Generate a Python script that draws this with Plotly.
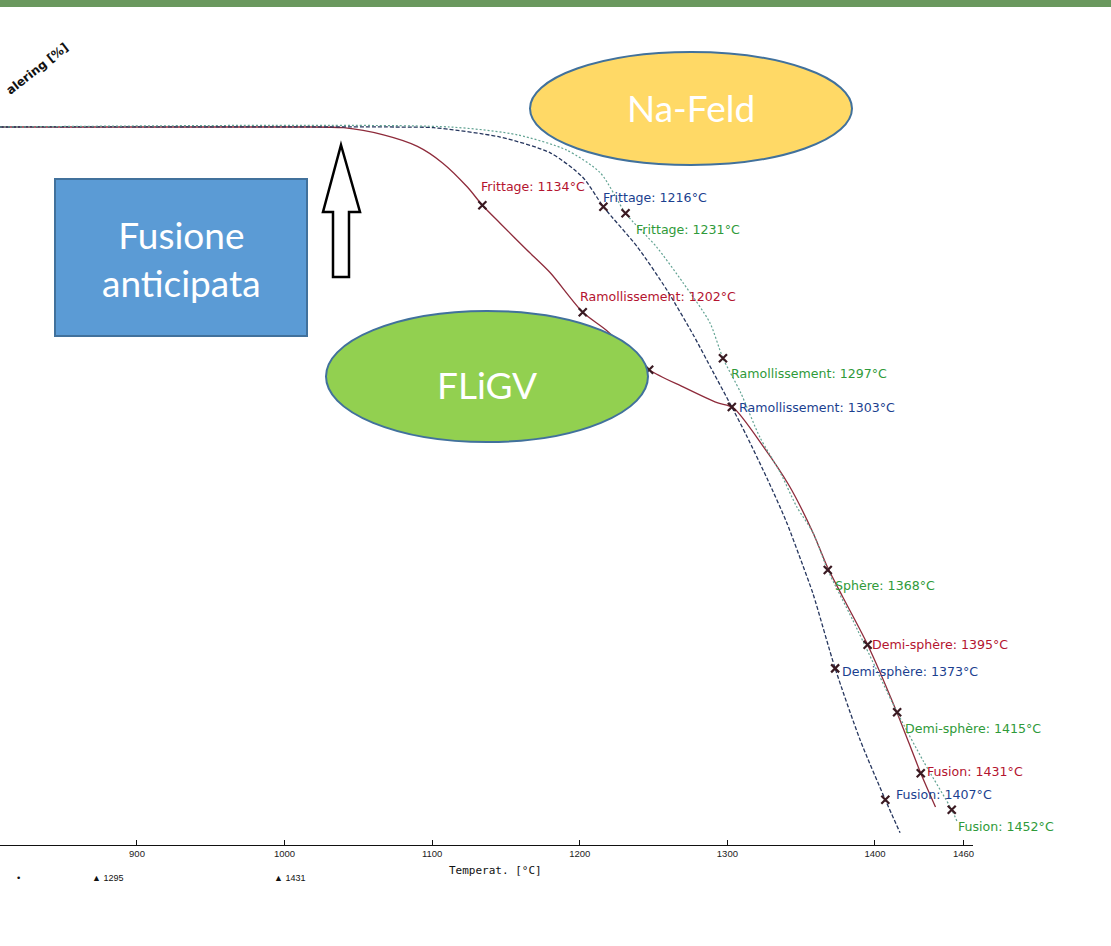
import plotly.graph_objects as go

# ---------------- data ----------------
red_T = [807, 1000, 1040, 1067, 1090, 1107, 1124, 1134, 1146, 1164, 1180, 1202, 1218, 1247,
         1270, 1293, 1304, 1324, 1342, 1358, 1368, 1378, 1395, 1415, 1431, 1441]
red_v = [100, 100, 99.9, 98.9, 97.3, 95.0, 91.6, 89.1, 86.6, 82.9, 79.7, 74.2, 71.7, 66.2,
         63.8, 61.6, 60.9, 55.6, 50.0, 43.5, 38.6, 34.6, 27.9, 18.4, 10.0, 5.3]

blue_T = [807, 1075, 1101, 1146, 1180, 1202, 1216, 1239, 1259, 1277, 1290, 1303, 1313, 1327,
          1340, 1351, 1358, 1373, 1390, 1407, 1417]
blue_v = [100, 100, 99.9, 98.6, 96.4, 93.0, 88.9, 83.3, 77.3, 71.0, 66.0, 61.0, 57.0, 51.0,
          45.0, 39.0, 35.0, 24.6, 14.6, 6.3, 1.7]

green_T = [807, 1112, 1158, 1191, 1214, 1231, 1252, 1270, 1288, 1297, 1309, 1322, 1336, 1347,
           1358, 1368, 1385, 1415, 1433, 1452, 1456]
green_v = [100, 100, 98.9, 96.8, 93.6, 88.0, 83.3, 78.3, 72.8, 67.8, 63.0, 56.8, 51.8, 47.1,
           43.5, 38.3, 31.3, 18.5, 11.6, 4.9, 3.1]

# characteristic points (marker temperature, value, label)
red_pts_T = [1134, 1202, 1247, 1395, 1431]
red_pts_v = [89.1, 74.2, 66.2, 27.9, 10.0]
red_pts_lbl = ["Frittage: 1134°C", "Ramollissement: 1202°C", "", "Demi-sphère: 1395°C", "Fusion: 1431°C"]

blue_pts_T = [1216, 1303, 1373, 1407]
blue_pts_v = [88.9, 61.0, 24.6, 6.3]
blue_pts_lbl = ["Frittage: 1216°C", "Ramollissement: 1303°C", "Demi-sphère: 1373°C", "Fusion: 1407°C"]

green_pts_T = [1231, 1297, 1368, 1415, 1452]
green_pts_v = [88.0, 67.8, 38.3, 18.5, 4.9]
green_pts_lbl = ["Frittage: 1231°C", "Ramollissement: 1297°C", "Sphère: 1368°C", "Demi-sphère: 1415°C", "Fusion: 1452°C"]

tick_vals = [900, 1000, 1100, 1200, 1300, 1400, 1460]
tick_text = ["900", "1000", "1100", "1200", "1300", "1400", "1460"]

# ---------------- layout helpers ----------------
W, H = 1111, 946
PL, PR, PT, PB = 0, 973, 0, 845   # plot area in pixels


def X(px):
    return (px - PL) / (PR - PL)


def Y(py):
    return (PB - py) / (PB - PT)


RED, BLUE, GREEN = "#8e2b3b", "#26365e", "#62a393"
RED_T, BLUE_T, GREEN_T = "#b4142f", "#1b3f8f", "#2f9a3a"
MK = "#3a1a22"

fig = go.Figure()
fig.add_trace(go.Scatter(x=red_T, y=red_v, mode="lines",
                         line=dict(color=RED, width=1.3, shape="spline", smoothing=0.7),
                         showlegend=False, hoverinfo="skip"))
fig.add_trace(go.Scatter(x=blue_T, y=blue_v, mode="lines",
                         line=dict(color=BLUE, width=1.3, dash="4px,2px", shape="spline", smoothing=0.7),
                         showlegend=False, hoverinfo="skip"))
fig.add_trace(go.Scatter(x=green_T, y=green_v, mode="lines",
                         line=dict(color=GREEN, width=1.2, dash="2px,2px", shape="spline", smoothing=0.7),
                         showlegend=False, hoverinfo="skip"))

for tx, vy in [(red_pts_T, red_pts_v), (blue_pts_T, blue_pts_v), (green_pts_T, green_pts_v)]:
    fig.add_trace(go.Scatter(x=tx, y=vy, mode="markers",
                             marker=dict(symbol="x-thin", size=8, line=dict(color=MK, width=2.2)),
                             showlegend=False, hoverinfo="skip"))

annotations = []
shifts_red = [(-3, 19), (-5, 16), None, (2, 0), (4, 2)]
shifts_blue = [(-2, 9), (5, 0), (5, -3), (9, 5)]
shifts_green = [(8, -16), (6, -15), (5, -15), (6, -16), (4, -17)]
for tx, vy, lbls, sh, col in [(red_pts_T, red_pts_v, red_pts_lbl, shifts_red, RED_T),
                              (blue_pts_T, blue_pts_v, blue_pts_lbl, shifts_blue, BLUE_T),
                              (green_pts_T, green_pts_v, green_pts_lbl, shifts_green, GREEN_T)]:
    for t, v, l, s in zip(tx, vy, lbls, sh):
        if not l:
            continue
        annotations.append(dict(x=t, y=v, xref="x", yref="y", text=l, showarrow=False,
                                xanchor="left", yanchor="middle", xshift=s[0], yshift=s[1],
                                font=dict(family="DejaVu Sans", size=12.6, color=col)))


def ptext(px, py, text, size, color="white", family="Lato", **kw):
    d = dict(x=X(px), y=Y(py), xref="paper", yref="paper", text=text, showarrow=False,
             xanchor="center", yanchor="middle", font=dict(family=family, size=size, color=color))
    d.update(kw)
    return d


# overlay texts
annotations += [
    ptext(181, 258, "Fusione<br>anticipata", 37, align="center"),
    ptext(691, 107, "Na-Feld", 37),
    ptext(487, 384, "FLiGV", 37),
    ptext(495, 871, "Temperat. [°C]", 11, color="#111", family="DejaVu Sans Mono"),
    ptext(37, 69, "<b>alering [%]</b>", 12, color="#111", family="DejaVu Sans", textangle=-38),
    ptext(18, 878, "•", 9, color="#111", family="DejaVu Sans"),
    ptext(90, 878, "▲ 1295", 9, color="#111", family="Liberation Sans", xanchor="left"),
    ptext(272, 878, "▲ 1431", 9, color="#111", family="Liberation Sans", xanchor="left"),
]

shapes = [
    dict(type="rect", xref="paper", yref="paper", x0=0, x1=X(W), y0=1, y1=Y(7),
         fillcolor="#6a985e", line=dict(width=0), layer="above"),
    dict(type="rect", xref="paper", yref="paper", x0=X(55), x1=X(307), y0=Y(179), y1=Y(336),
         fillcolor="#5b9bd5", line=dict(color="#41719c", width=2), layer="above"),
    dict(type="circle", xref="paper", yref="paper", x0=X(530), x1=X(852), y0=Y(52), y1=Y(165),
         fillcolor="#ffd966", line=dict(color="#41719c", width=2), layer="above"),
    dict(type="circle", xref="paper", yref="paper", x0=X(326), x1=X(648), y0=Y(311), y1=Y(442),
         fillcolor="#92d050", line=dict(color="#41719c", width=2), layer="above"),
]
arrow_px = [(341, 145), (360, 212), (349, 212), (349, 277), (333, 277), (333, 212), (323, 212)]
path = "M " + " L ".join(f"{X(a):.5f},{Y(b):.5f}" for a, b in arrow_px) + " Z"
shapes.append(dict(type="path", xref="paper", yref="paper", path=path, fillcolor="white",
                   line=dict(color="black", width=2.5), layer="above"))

fig.update_layout(
    width=W, height=H,
    margin=dict(l=PL, r=W - PR, t=PT, b=H - PB),
    paper_bgcolor="white", plot_bgcolor="white",
    shapes=shapes, annotations=annotations,
    xaxis=dict(range=[807.2, 1466.4], tickvals=tick_vals, ticktext=tick_text,
               showgrid=False, zeroline=False, showline=True, linecolor="#111", linewidth=1,
               ticks="inside", ticklen=5, tickcolor="#111",
               tickfont=dict(family="Liberation Sans", size=9.5, color="#222")),
    yaxis=dict(range=[0, 845 / 7.18], visible=False, showgrid=False, zeroline=False),
)

fig.write_html("out.html", config={"displayModeBar": False},
               post_script="document.body.style.margin='0px';")
